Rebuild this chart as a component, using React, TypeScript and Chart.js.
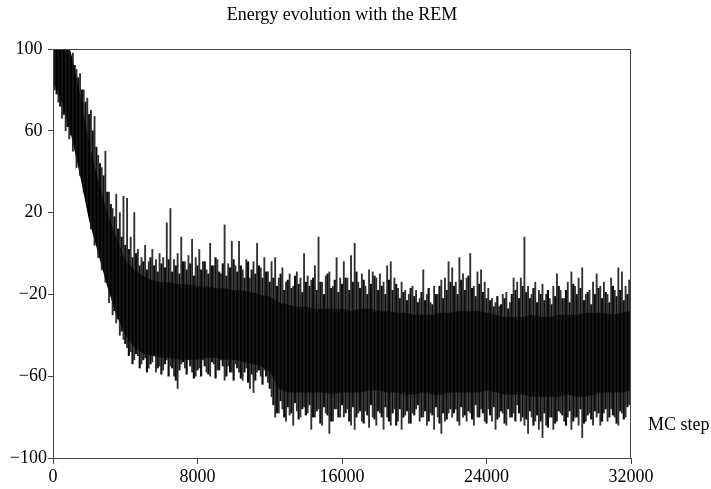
import { useEffect, useRef } from "react";
import { Chart, registerables } from "chart.js";

Chart.register(...registerables);

const TITLE = "Energy evolution with the REM";
const X_LABEL = "MC step";
const X_MIN = 0;
const X_MAX = 32000;
const X_STEP = 8000;
const Y_MIN = -100;
const Y_MAX = 100;
const Y_STEP = 40;

// Solid core of the energy trace, sampled every 500 MC steps
const coreSteps = Array.from({ length: 65 }, (_, i) => i * 500);
const coreHigh = [
  110, 110, 98, 78, 54, 36, 20, 8, -3, -8,
  -11, -13, -14, -14, -15, -15, -16, -16, -17, -17,
  -18, -18, -19, -20, -21, -24, -25, -26, -26, -27,
  -27, -27, -27, -28, -27, -27, -28, -28, -29, -29,
  -30, -30, -30, -29, -29, -28, -28, -28, -29, -30,
  -31, -31, -31, -30, -31, -31, -30, -30, -30, -29,
  -29, -29, -30, -29, -28,
];
const coreLow = [
  84, 74, 58, 38, 16, 0, -16, -30, -40, -46,
  -49, -50, -51, -51, -52, -52, -52, -51, -51, -52,
  -52, -53, -54, -55, -58, -66, -68, -68, -68, -68,
  -68, -69, -68, -68, -68, -67, -67, -68, -68, -69,
  -69, -68, -69, -69, -68, -68, -68, -68, -67, -68,
  -69, -69, -69, -70, -70, -70, -70, -69, -70, -70,
  -69, -68, -68, -68, -67,
];

// Extremes of the trace in bins of 200 MC steps (bin centres)
const binSteps = Array.from({ length: 160 }, (_, i) => 100 + i * 200);
const spikeHigh = [
  112, 115, 110, 108, 104, 98, 90, 88, 80, 76,
  70, 67, 48, 42, 50, 30, 22, 29, 20, 28,
  27, 8, 20, 2, -2, 4, -4, 2, -3, 0,
  -2, 15, 22, -3, 0, 8, -4, -1, 7, -2,
  2, -4, -8, 5, -6, -3, -10, 14, -5, 6,
  -6, 6, -8, -3, -12, -4, 5, -7, -2, -9,
  -4, -2, -12, -7, -14, -10, -16, -9, -12, 0,
  -11, -13, -6, 8, -14, -11, -9, -16, -2, -12,
  -4, -12, -1, 5, -14, -10, -16, -8, -9, -12,
  -10, -14, -6, -4, -12, -17, -14, -18, -20, -16,
  -18, -22, -8, -20, -24, -16, -20, -13, -12, -4,
  -7, -14, -2, -10, -12, 0, -16, -9, -8, -14,
  -17, -22, -24, -26, -20, -19, -24, -12, -14, -12,
  8, -16, -20, -14, -18, -15, -20, -22, -16, -10,
  -18, -22, -14, -9, -16, -12, -7, -20, -18, -14,
  -10, -16, -14, -20, -12, -18, -7, -9, -16, -13,
];
const spikeLow = [
  80, 74, 66, 60, 56, 50, 42, 38, 30, 24,
  12, 4, -2, -8, -14, -24, -30, -34, -40, -42,
  -46, -48, -52, -50, -54, -51, -56, -53, -58, -55,
  -57, -52, -55, -60, -66, -54, -56, -52, -58, -60,
  -56, -52, -58, -60, -54, -57, -52, -62, -55, -58,
  -54, -58, -62, -56, -66, -68, -58, -60, -57, -63,
  -70, -80, -78, -76, -82, -79, -84, -77, -80, -75,
  -78, -86, -80, -76, -84, -78, -88, -82, -76, -80,
  -80, -76, -84, -86, -78, -82, -77, -85, -80, -84,
  -78, -86, -80, -84, -76, -82, -86, -79, -83, -78,
  -76, -82, -80, -84, -78, -86, -80, -88, -82, -78,
  -80, -76, -84, -80, -82, -78, -84, -80, -76, -82,
  -76, -82, -86, -80, -78, -84, -80, -78, -74, -82,
  -84, -88, -80, -82, -86, -90, -84, -80, -86, -82,
  -78, -82, -80, -86, -80, -84, -90, -82, -78, -84,
  -80, -84, -78, -82, -76, -80, -84, -78, -80, -74,
];

// Secondary extremes, read between the bin centres above
const innerSteps = Array.from({ length: 160 }, (_, i) => 200 + i * 200);
const innerHigh = [
  108, 106, 104, 100, 96, 92, 86, 80, 74, 68,
  60, 52, 44, 38, 30, 24, 18, 12, 8, 4,
  2, -2, 0, -6, -4, -8, -2, -6, -9, -5,
  -7, -3, -9, -6, -10, -4, -8, -5, -11, -6,
  -8, -4, -10, -6, -2, -9, -5, -11, -7, -3,
  -9, -6, -12, -4, -8, -10, -6, -12, -9, -14,
  -12, -16, -10, -18, -13, -17, -11, -15, -19, -14,
  -16, -12, -18, -14, -20, -10, -17, -13, -19, -15,
  -12, -18, -14, -9, -17, -13, -20, -15, -11, -18,
  -16, -20, -13, -18, -15, -22, -19, -23, -17, -21,
  -24, -19, -23, -17, -25, -20, -16, -22, -18, -14,
  -16, -20, -13, -18, -11, -17, -21, -15, -19, -22,
  -23, -26, -21, -25, -22, -27, -20, -18, -22, -16,
  -19, -22, -17, -24, -20, -23, -18, -25, -21, -16,
  -22, -18, -24, -15, -20, -17, -23, -19, -25, -20,
  -17, -22, -19, -24, -16, -21, -18, -23, -20, -22,
];
const innerLow = [
  78, 72, 68, 62, 58, 52, 46, 40, 34, 28,
  20, 8, 0, -6, -12, -20, -28, -32, -38, -44,
  -50, -54, -49, -56, -52, -58, -54, -50, -56, -59,
  -54, -60, -56, -62, -57, -53, -59, -55, -61, -57,
  -60, -55, -59, -53, -61, -57, -55, -60, -58, -62,
  -56, -61, -58, -63, -59, -62, -57, -64, -60, -66,
  -74, -78, -72, -80, -75, -78, -73, -81, -76, -79,
  -74, -80, -77, -83, -75, -79, -82, -76, -80, -74,
  -78, -82, -75, -80, -77, -83, -79, -74, -81, -77,
  -80, -75, -82, -78, -84, -76, -80, -77, -83, -79,
  -74, -80, -77, -82, -79, -75, -83, -78, -81, -76,
  -78, -82, -75, -79, -77, -81, -74, -80, -78, -83,
  -79, -75, -81, -77, -83, -76, -80, -82, -78, -80,
  -81, -77, -84, -79, -82, -78, -85, -80, -83, -77,
  -79, -84, -77, -82, -80, -76, -83, -79, -81, -77,
  -78, -82, -76, -80, -79, -83, -77, -81, -75, -72,
];

const FONT = "'Liberation Serif', 'Times New Roman', serif";
const FONT_SIZE = 18;
const AXIS_COLOR = "#444";

const framePlugin = {
  id: "frameAndLabels",
  afterDraw(chart: any) {
    const { ctx, chartArea } = chart;
    ctx.save();
    ctx.strokeStyle = AXIS_COLOR;
    ctx.lineWidth = 1;
    ctx.strokeRect(
      Math.round(chartArea.left) + 0.5,
      Math.round(chartArea.top) + 0.5,
      Math.round(chartArea.right - chartArea.left) - 1,
      Math.round(chartArea.bottom - chartArea.top)
    );
    ctx.fillStyle = "#000";
    ctx.font = `${FONT_SIZE}px ${FONT}`;
    ctx.textAlign = "center";
    ctx.textBaseline = "alphabetic";
    ctx.fillText(TITLE, (chartArea.left + chartArea.right) / 2, 20);
    ctx.textAlign = "left";
    ctx.fillText(X_LABEL, chartArea.right + 17, 430);
    ctx.restore();
  },
};

export default function App() {
  const ref = useRef<HTMLCanvasElement | null>(null);

  useEffect(() => {
    if (!ref.current) return;
    const chart = new Chart(ref.current, {
      type: "bar",
      data: {
        datasets: [
          {
            type: "line",
            label: "core high",
            data: coreSteps.map((s, i) => ({ x: s, y: coreHigh[i] })),
            borderColor: "rgba(0,0,0,0)",
            borderWidth: 0,
            pointRadius: 0,
            fill: false,
            order: 3,
          } as any,
          {
            type: "line",
            label: "core low",
            data: coreSteps.map((s, i) => ({ x: s, y: coreLow[i] })),
            borderColor: "rgba(0,0,0,0)",
            borderWidth: 0,
            backgroundColor: "#000",
            pointRadius: 0,
            fill: "-1",
            order: 3,
          } as any,
          {
            type: "bar",
            label: "energy (inner)",
            data: innerSteps.map((s, i) => ({ x: s, y: [innerLow[i], innerHigh[i]] })),
            backgroundColor: "rgba(0,0,0,0.95)",
            borderWidth: 0,
            barThickness: 1.5,
            grouped: false,
            order: 2,
          } as any,
          {
            type: "bar",
            label: "energy",
            data: binSteps.map((s, i) => ({ x: s, y: [spikeLow[i], spikeHigh[i]] })),
            backgroundColor: "rgba(25,25,25,0.9)",
            borderWidth: 0,
            barThickness: 1.2,
            grouped: false,
            order: 1,
          } as any,
        ],
      },
      options: {
        responsive: false,
        animation: false,
        events: [],
        layout: { padding: { top: 49, right: 80, left: 0, bottom: 0 } },
        plugins: { legend: { display: false }, tooltip: { enabled: false }, title: { display: false } },
        scales: {
          x: {
            type: "linear",
            min: X_MIN,
            max: X_MAX,
            offset: false,
            afterFit: (s: any) => {
              s.height = 31;
            },
            ticks: {
              stepSize: X_STEP,
              color: "#000",
              font: { family: FONT, size: FONT_SIZE },
              maxRotation: 0,
              autoSkip: false,
              padding: 2,
              callback: (v: any) => String(v),
            },
            grid: { offset: false, drawOnChartArea: false, drawTicks: true, tickLength: 6, color: AXIS_COLOR },
            border: { display: true, color: AXIS_COLOR },
          },
          y: {
            type: "linear",
            min: Y_MIN,
            max: Y_MAX,
            afterFit: (s: any) => {
              s.width = 53;
            },
            ticks: {
              stepSize: Y_STEP,
              color: "#000",
              font: { family: FONT, size: FONT_SIZE },
              padding: 1,
              callback: (v: any) => (Number(v) < 0 ? "\u2212" + String(Math.abs(Number(v))) : String(v) + " "),
            },
            grid: { offset: false, drawOnChartArea: false, drawTicks: true, tickLength: 5, color: AXIS_COLOR },
            border: { display: true, color: AXIS_COLOR },
          },
        },
      },
      plugins: [framePlugin],
    });
    return () => chart.destroy();
  }, []);

  return (
    <div style={{ position: "fixed", left: 0, top: 0, width: 711, height: 489, background: "#fff" }}>
      <canvas ref={ref} width={711} height={489} style={{ width: 711, height: 489 }} />
    </div>
  );
}
